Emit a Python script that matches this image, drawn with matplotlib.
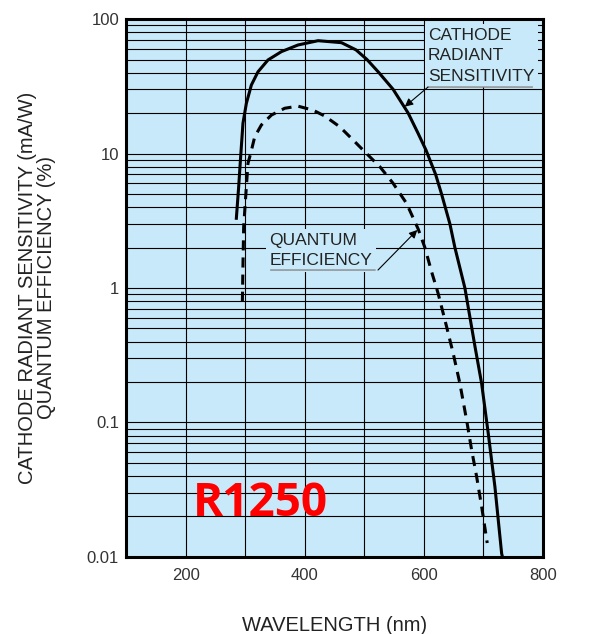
import matplotlib
matplotlib.use('Agg')
import matplotlib.pyplot as plt
from matplotlib.ticker import LogLocator, FixedLocator, NullFormatter

plt.rcParams['font.family'] = ['Liberation Sans', 'DejaVu Sans']

# cathode radiant sensitivity (mA/W), solid curve
cathode_wl = [285.2, 289.1, 292.4, 296.3, 302.0, 310.4, 321.5, 338.3, 360.8, 388.7,
              422.4, 461.7, 486, 504.5, 524.4, 548.4, 573.6, 590.4, 603.6, 619.7,
              629.7, 643.7, 652.1, 668.9, 685.7, 697, 708.1, 719.3, 730.6, 732]
cathode_val = [3.30, 5.66, 9.46, 16.8, 23.6, 32.3, 40.5, 49.6, 57.2, 64.1,
               69.0, 66.7, 59, 50, 40, 30, 20, 14.1, 10.6, 7,
               5, 3, 2, 1, 0.37, 0.195, 0.083, 0.0333, 0.0106, 0.01]

# quantum efficiency (%), dashed curve
qe_wl = [295.3, 296.3, 297.5, 302, 304.7, 309.2, 316, 327.2, 344, 366.4, 388.7,
         414, 433.6, 458.8, 481.2, 503.7, 526.1, 548.4, 570.9, 590.4, 601.7, 613,
         624, 638.2, 649.2, 660.5, 671.8, 680.2, 688.6, 697, 706.4]
qe_val = [0.79, 1.48, 2.86, 5.66, 8.45, 10, 13.3, 16.3, 19.3, 21.7, 22.5,
          21, 19.0, 15.8, 12.6, 10.0, 7.98, 6.0, 4.26, 2.75, 2.0, 1.32,
          0.91, 0.515, 0.327, 0.195, 0.104, 0.0625, 0.0396, 0.0237, 0.0127]

x_ticks = [200, 400, 600, 800]
y_ticks = [0.01, 0.1, 1, 10, 100]
y_tick_labels = ['0.01', '0.1', '1', '10', '100']

bg = '#c8e9f9'
txt = '#222222'

fig = plt.figure(figsize=(6.06, 6.34), dpi=100)
ax = fig.add_axes([0.208, 0.1215, 0.688, 0.8485])
ax.set_facecolor(bg)

ax.set_yscale('log')
ax.set_xlim(100, 800)
ax.set_ylim(0.01, 100)

ax.xaxis.set_major_locator(FixedLocator(x_ticks))
ax.xaxis.set_minor_locator(FixedLocator(range(100, 801, 100)))
ax.set_xticklabels([str(t) for t in x_ticks])
ax.yaxis.set_major_locator(FixedLocator(y_ticks))
ax.set_yticklabels(y_tick_labels)
ax.yaxis.set_minor_locator(LogLocator(base=10, subs=range(2, 10)))
ax.yaxis.set_minor_formatter(NullFormatter())

ax.grid(True, which='both', color='black', lw=0.8, zorder=1)
ax.set_axisbelow(True)
ax.tick_params(which='both', length=0, labelsize=12, labelcolor='#333333')
ax.tick_params(axis='x', pad=8)
ax.tick_params(axis='y', pad=5)
for s in ax.spines.values():
    s.set_linewidth(2.2)
    s.set_zorder(5)

ax.plot(cathode_wl, cathode_val, color='black', lw=2.2, zorder=4)
ax.plot(qe_wl, qe_val, color='black', lw=2.2, ls=(0, (3.3, 2.3)), zorder=4)

ax.set_xlabel('WAVELENGTH (nm)', fontsize=14.5, color=txt, labelpad=24)
ax.set_ylabel('CATHODE RADIANT SENSITIVITY (mA/W)\nQUANTUM EFFICIENCY (%)',
              fontsize=14.5, color=txt, labelpad=22, linespacing=1.05)

# curve labels with leaders
ax.text(607, 85.8, 'CATHODE\nRADIANT\nSENSITIVITY', fontsize=12.5, color=txt,
        va='top', ha='left', linespacing=1.45, zorder=3,
        bbox=dict(boxstyle='square,pad=0.2', fc=bg, ec='none'))
ax.annotate('', xy=(787, 31.2), xytext=(602, 31.2),
            arrowprops=dict(arrowstyle='-', color='#888888', lw=1.0), zorder=4)
ax.annotate('', xy=(568, 22.3), xytext=(607, 31.2),
            arrowprops=dict(arrowstyle='-|>', color='black', lw=0.8,
                            mutation_scale=12, shrinkA=0, shrinkB=0), zorder=4)

ax.text(341, 2.57, 'QUANTUM\nEFFICIENCY', fontsize=12.5, color=txt,
        va='top', ha='left', linespacing=1.45, zorder=3,
        bbox=dict(boxstyle='square,pad=0.2', fc=bg, ec='none'))
ax.annotate('', xy=(523, 1.36), xytext=(338, 1.36),
            arrowprops=dict(arrowstyle='-', color='#888888', lw=1.0), zorder=4)
ax.annotate('', xy=(589, 2.7), xytext=(523, 1.36),
            arrowprops=dict(arrowstyle='-|>', color='black', lw=0.8,
                            mutation_scale=12, shrinkA=0, shrinkB=0), zorder=4)

ax.text(325, 0.025, 'R1250', fontsize=33, fontweight='bold', color='#ff0000',
        family='Open Sans', ha='center', va='center', zorder=6)

fig.savefig('out.png', dpi=100)
